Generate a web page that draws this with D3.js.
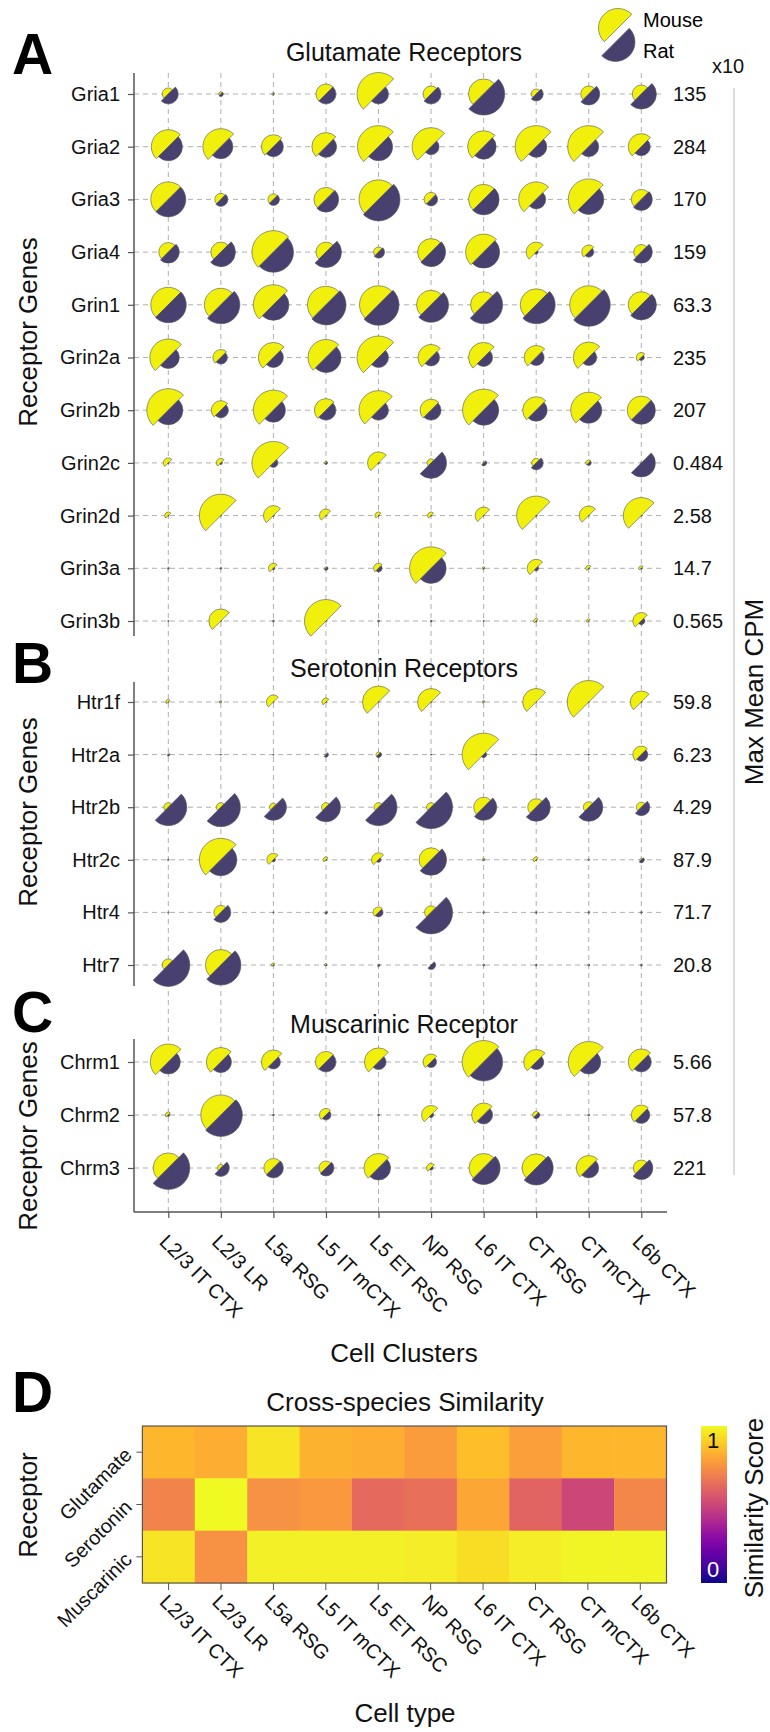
<!DOCTYPE html>
<html>
<head>
<meta charset="utf-8">
<script src="https://cdn.jsdelivr.net/npm/d3@7"></script>
<style>
  body { margin: 0; background: #fff; }
  svg { display: block; font-family: "Liberation Sans", Arial, sans-serif; }
  .grid line { stroke: #b0b0b0; stroke-width: 1; stroke-dasharray: 5,4; }
  .spine { stroke: #555; stroke-width: 1.5; }
  .glyph { stroke: #555; stroke-width: 0.6; }
</style>
</head>
<body>
<div id="chart"></div>
<script>
// ---- data ----
const cellTypes = ["L2/3 IT CTX", "L2/3 LR", "L5a RSG", "L5 IT mCTX", "L5 ET RSC",
  "NP RSG", "L6 IT CTX", "CT RSG", "CT mCTX", "L6b CTX"];

// relative mean expression (1 = gene max), mouse & rat
const glutamateGenes = ["Gria1", "Gria2", "Gria3", "Gria4", "Grin1", "Grin2a", "Grin2b",
  "Grin2c", "Grin2d", "Grin3a", "Grin3b"];
const glutamateMax = ["135", "284", "170", "159", "63.3", "235", "207", "0.484", "2.58", "14.7", "0.565"];
const glutamateMouse = [
  [0.078, 0.009, 0.005, 0.216, 1, 0.138, 0.487, 0.054, 0.138, 0.175],
  [0.625, 0.701, 0.312, 0.424, 0.954, 0.781, 0.554, 0.954, 0.954, 0.366],
  [0.663, 0.078, 0.065, 0.312, 0.823, 0.106, 0.487, 0.663, 0.909, 0.216],
  [0.195, 0.216, 1, 0.216, 0.054, 0.394, 0.701, 0.216, 0.106, 0.122],
  [0.663, 0.589, 0.865, 0.74, 0.781, 0.455, 0.366, 0.554, 0.781, 0.366],
  [0.74, 0.138, 0.487, 0.701, 1, 0.366, 0.487, 0.312, 0.52, 0.054],
  [1, 0.195, 0.865, 0.286, 0.823, 0.262, 0.954, 0.394, 0.701, 0.424],
  [0.054, 0.044, 1, 0.005, 0.262, 0.035, 0.002, 0.044, 0.019, 0.002],
  [0.027, 1, 0.216, 0.091, 0.027, 0.027, 0.156, 0.823, 0.195, 0.701],
  [0.002, 0.002, 0.054, 0.005, 0.054, 1, 0.005, 0.175, 0.019, 0.014],
  [0.001, 0.312, 0.002, 1, 0.002, 0.002, 0.001, 0.014, 0.009, 0.156]
];
const glutamateRat = [
  [0.216, 0.014, 0.002, 0.216, 0.216, 0.216, 0.954, 0.106, 0.262, 0.487],
  [0.424, 0.312, 0.216, 0.239, 0.424, 0.138, 0.338, 0.239, 0.216, 0.175],
  [0.663, 0.106, 0.078, 0.349, 1, 0.091, 0.52, 0.195, 0.487, 0.262],
  [0.262, 0.455, 0.865, 0.52, 0.078, 0.455, 0.554, 0.009, 0.054, 0.262],
  [0.701, 0.781, 0.52, 0.865, 0.909, 0.663, 0.781, 0.781, 1, 0.487],
  [0.262, 0.091, 0.216, 0.487, 0.216, 0.156, 0.175, 0.138, 0.138, 0.019],
  [0.455, 0.122, 0.312, 0.216, 0.216, 0.216, 0.487, 0.262, 0.366, 0.424],
  [0.002, 0.005, 0.044, 0.005, 0.002, 0.52, 0.019, 0.106, 0.014, 0.424],
  [0.001, 0.001, 0.002, 0.001, 0.001, 0.001, 0.001, 0.002, 0.001, 0.001],
  [0.002, 0.002, 0.005, 0.009, 0.027, 0.487, 0.002, 0.014, 0.002, 0.002],
  [0.001, 0.001, 0.002, 0.001, 0.002, 0.002, 0.001, 0.002, 0.001, 0.027]
];

const serotoninGenes = ["Htr1f", "Htr2a", "Htr2b", "Htr2c", "Htr4", "Htr7"];
const serotoninMax = ["59.8", "6.23", "4.29", "87.9", "71.7", "20.8"];
const serotoninMouse = [
  [0.014, 0.005, 0.106, 0.035, 0.554, 0.394, 0.005, 0.394, 1, 0.262],
  [0.001, 0.001, 0.001, 0.002, 0.014, 0.001, 1, 0.001, 0.001, 0.156],
  [0.044, 0.044, 0.035, 0.044, 0.044, 0.044, 0.216, 0.156, 0.065, 0.054],
  [0.002, 1, 0.091, 0.019, 0.106, 0.312, 0.005, 0.019, 0.002, 0.005],
  [0.001, 0.106, 0.001, 0.001, 0.065, 0.091, 0.002, 0.002, 0.002, 0.002],
  [0.078, 0.52, 0.009, 0.005, 0.001, 0.001, 0.002, 0.002, 0.002, 0.002]
];
const serotoninRat = [
  [0.001, 0.001, 0.001, 0.001, 0.001, 0.001, 0.001, 0.001, 0.001, 0.001],
  [0.005, 0.001, 0.001, 0.014, 0.019, 0.001, 0.019, 0.001, 0.001, 0.091],
  [0.74, 0.823, 0.366, 0.455, 0.74, 1, 0.366, 0.424, 0.424, 0.156],
  [0.001, 0.554, 0.009, 0.002, 0.014, 0.52, 0.002, 0.002, 0.001, 0.019],
  [0.001, 0.216, 0.001, 0.005, 0.044, 1, 0.002, 0.002, 0.002, 0.002],
  [1, 0.865, 0.002, 0.002, 0.005, 0.044, 0.002, 0.002, 0.002, 0.002]
];

const muscarinicGenes = ["Chrm1", "Chrm2", "Chrm3"];
const muscarinicMax = ["5.66", "57.8", "221"];
const muscarinicMouse = [
  [0.701, 0.455, 0.312, 0.239, 0.424, 0.138, 1, 0.338, 0.909, 0.366],
  [0.019, 0.865, 0.002, 0.091, 0.002, 0.195, 0.312, 0.027, 0.002, 0.216],
  [0.487, 0.027, 0.195, 0.106, 0.455, 0.044, 0.455, 0.424, 0.338, 0.138]
];
const muscarinicRat = [
  [0.312, 0.239, 0.106, 0.216, 0.122, 0.065, 0.781, 0.122, 0.312, 0.216],
  [0.005, 1, 0.002, 0.054, 0.002, 0.014, 0.175, 0.027, 0.002, 0.156],
  [1, 0.156, 0.216, 0.138, 0.312, 0.009, 0.589, 0.625, 0.216, 0.286]
];

// cross-species similarity score per receptor family
const receptorFamilies = ["Glutamate", "Serotonin", "Muscarinic"];
const similarityScores = [
  [0.84, 0.82, 0.95, 0.83, 0.82, 0.77, 0.86, 0.78, 0.84, 0.84],
  [0.70, 1.00, 0.74, 0.76, 0.62, 0.64, 0.80, 0.60, 0.50, 0.71],
  [0.95, 0.74, 0.98, 0.98, 0.98, 0.97, 0.93, 0.97, 0.99, 0.99]
];

// ---- layout ----
const width = 770, height = 1732;
const mouseColor = "#f0f00c", ratColor = "#48406e";
const axisX = 134, gridRight = 663, plotBottom = 1212;

const svg = d3.select("#chart").append("svg")
  .attr("width", width)
  .attr("height", height)
  .attr("viewBox", `0 0 ${width} ${height}`);

const x = d3.scalePoint().domain(cellTypes).range([168.3, 641.3]);
const rScale = d3.scaleSqrt().domain([0, 1]).range([0, 21.5]);

const mouseArc = d3.arc().innerRadius(0).startAngle(-3 * Math.PI / 4).endAngle(Math.PI / 4);
const ratArc = d3.arc().innerRadius(0).startAngle(Math.PI / 4).endAngle(5 * Math.PI / 4);

const panels = [
  { letter: "A", title: "Glutamate Receptors", genes: glutamateGenes, max: glutamateMax,
    mouse: glutamateMouse, rat: glutamateRat, rows: [94, 621], spine: [73, 636],
    titleY: 61, letterY: 74, labelY: 332 },
  { letter: "B", title: "Serotonin Receptors", genes: serotoninGenes, max: serotoninMax,
    mouse: serotoninMouse, rat: serotoninRat, rows: [702, 965], spine: [682, 986],
    titleY: 677, letterY: 683, labelY: 812 },
  { letter: "C", title: "Muscarinic Receptor", genes: muscarinicGenes, max: muscarinicMax,
    mouse: muscarinicMouse, rat: muscarinicRat, rows: [1062, 1168], spine: [1039, plotBottom],
    titleY: 1033, letterY: 1032, labelY: 1136 }
];

// vertical dashed grid through all three panels
svg.append("g").attr("class", "grid")
  .selectAll("line")
  .data(cellTypes)
  .enter()
  .append("line")
  .attr("x1", d => x(d)).attr("x2", d => x(d))
  .attr("y1", 73).attr("y2", plotBottom);

panels.forEach(function (p) {
  const y = d3.scalePoint().domain(p.genes).range(p.rows);
  const g = svg.append("g");

  // horizontal grid
  g.append("g").attr("class", "grid")
    .selectAll("line")
    .data(p.genes)
    .enter()
    .append("line")
    .attr("x1", axisX).attr("x2", gridRight)
    .attr("y1", d => y(d)).attr("y2", d => y(d));

  const cells = [];
  p.genes.forEach(function (gene, i) {
    cellTypes.forEach(function (ct, j) {
      cells.push({ gene: gene, cell: ct, mouse: p.mouse[i][j], rat: p.rat[i][j] });
    });
  });

  const glyph = g.append("g")
    .selectAll("g")
    .data(cells)
    .enter()
    .append("g")
    .attr("transform", d => `translate(${x(d.cell)},${y(d.gene)})`);

  glyph.append("path")
    .attr("class", "glyph")
    .attr("fill", mouseColor)
    .attr("d", d => mouseArc({ outerRadius: rScale(d.mouse) }));

  glyph.append("path")
    .attr("class", "glyph")
    .attr("fill", ratColor)
    .attr("d", d => ratArc({ outerRadius: rScale(d.rat) }));

  // y axis with gene names
  const yAxis = g.append("g")
    .attr("transform", `translate(${axisX},0)`)
    .call(d3.axisLeft(y).tickSize(6).tickPadding(8).tickSizeOuter(0));
  yAxis.select(".domain").remove();
  yAxis.selectAll("line").attr("stroke", "#555").attr("stroke-width", 1.2);
  yAxis.selectAll("text")
    .attr("font-size", 20)
    .attr("font-family", "Liberation Sans, Arial, sans-serif")
    .attr("fill", "#111");

  g.append("line").attr("class", "spine")
    .attr("x1", axisX).attr("x2", axisX)
    .attr("y1", p.spine[0]).attr("y2", p.spine[1]);

  // max mean CPM per gene
  g.append("g")
    .selectAll("text")
    .data(p.genes)
    .enter()
    .append("text")
    .attr("x", 673)
    .attr("y", d => y(d))
    .attr("dy", "0.35em")
    .attr("font-size", 20)
    .attr("fill", "#111")
    .text((d, i) => p.max[i]);

  g.append("text")
    .attr("x", 404)
    .attr("y", p.titleY)
    .attr("text-anchor", "middle")
    .attr("font-size", 25)
    .attr("fill", "#111")
    .text(p.title);

  g.append("text")
    .attr("x", 12)
    .attr("y", p.letterY)
    .attr("font-size", 57)
    .attr("font-weight", "bold")
    .text(p.letter);

  g.append("text")
    .attr("transform", `translate(37,${p.labelY}) rotate(-90)`)
    .attr("text-anchor", "middle")
    .attr("font-size", 26)
    .attr("fill", "#111")
    .text("Receptor Genes");
});

// x axis of panel C
const xAxis = svg.append("g")
  .attr("transform", `translate(0,${plotBottom})`)
  .call(d3.axisBottom(x).tickSize(6).tickSizeOuter(0).tickFormat(""));
xAxis.select(".domain").remove();
xAxis.selectAll("line").attr("stroke", "#555").attr("stroke-width", 1.2);
svg.append("line").attr("class", "spine")
  .attr("x1", axisX).attr("x2", 667)
  .attr("y1", plotBottom).attr("y2", plotBottom);

svg.append("g")
  .selectAll("text")
  .data(cellTypes)
  .enter()
  .append("text")
  .attr("transform", d => `translate(${x(d) - 10},${plotBottom + 31}) rotate(45)`)
  .attr("font-size", 20)
  .attr("fill", "#111")
  .text(d => d);

svg.append("text")
  .attr("x", 404).attr("y", 1362)
  .attr("text-anchor", "middle")
  .attr("font-size", 26)
  .attr("fill", "#111")
  .text("Cell Clusters");

// right side: Max Mean CPM
svg.append("line")
  .attr("x1", 734).attr("x2", 734)
  .attr("y1", 88).attr("y2", 1175)
  .attr("stroke", "#bbb").attr("stroke-width", 1);
svg.append("text")
  .attr("transform", "translate(763,692) rotate(-90)")
  .attr("text-anchor", "middle")
  .attr("font-size", 26)
  .attr("fill", "#111")
  .text("Max Mean CPM");
svg.append("text")
  .attr("x", 712).attr("y", 73)
  .attr("font-size", 20)
  .attr("fill", "#111")
  .text("x10");

// legend
const legend = svg.append("g");
legend.append("path")
  .attr("class", "glyph")
  .attr("fill", mouseColor)
  .attr("transform", "translate(618,28)")
  .attr("d", mouseArc({ outerRadius: 19.5 }));
legend.append("path")
  .attr("class", "glyph")
  .attr("fill", ratColor)
  .attr("transform", "translate(615.5,42)")
  .attr("d", ratArc({ outerRadius: 19.5 }));
legend.append("text").attr("x", 643).attr("y", 27).attr("font-size", 20).text("Mouse");
legend.append("text").attr("x", 643).attr("y", 58).attr("font-size", 20).text("Rat");

// ---- D: similarity heatmap ----
const hx = d3.scaleBand().domain(cellTypes).range([142.4, 666.5]);
const hy = d3.scaleBand().domain(receptorFamilies).range([1426, 1583]);
const color = d3.scaleSequential(d3.interpolatePlasma).domain([0, 1]);

const heat = svg.append("g");
const heatCells = [];
receptorFamilies.forEach(function (r, i) {
  cellTypes.forEach(function (c, j) {
    heatCells.push({ row: r, col: c, value: similarityScores[i][j] });
  });
});

heat.selectAll("rect.cell")
  .data(heatCells)
  .enter()
  .append("rect")
  .attr("class", "cell")
  .attr("x", d => hx(d.col))
  .attr("y", d => hy(d.row))
  .attr("width", hx.bandwidth() + 0.5)
  .attr("height", hy.bandwidth() + 0.5)
  .attr("fill", d => color(d.value));

heat.append("rect")
  .attr("x", 142.4).attr("y", 1426)
  .attr("width", 666.5 - 142.4).attr("height", 1583 - 1426)
  .attr("fill", "none").attr("stroke", "#555").attr("stroke-width", 1.2);

const hxAxis = heat.append("g")
  .attr("transform", "translate(0,1583)")
  .call(d3.axisBottom(hx).tickSize(7).tickSizeOuter(0).tickFormat(""));
hxAxis.select(".domain").remove();
hxAxis.selectAll("line").attr("stroke", "#555");

const hyAxis = heat.append("g")
  .attr("transform", "translate(142.4,0)")
  .call(d3.axisLeft(hy).tickSize(6).tickSizeOuter(0).tickFormat(""));
hyAxis.select(".domain").remove();
hyAxis.selectAll("line").attr("stroke", "#555");

heat.append("g")
  .selectAll("text")
  .data(cellTypes)
  .enter()
  .append("text")
  .attr("transform", d => `translate(${hx(d) + hx.bandwidth() / 2 - 10},1603) rotate(45)`)
  .attr("font-size", 20)
  .attr("fill", "#111")
  .text(d => d);

heat.append("g")
  .selectAll("text")
  .data(receptorFamilies)
  .enter()
  .append("text")
  .attr("transform", d => `translate(133,${hy(d) + hy.bandwidth() / 2 + 4}) rotate(-45)`)
  .attr("text-anchor", "end")
  .attr("font-size", 20)
  .attr("fill", "#111")
  .text(d => d);

heat.append("text")
  .attr("x", 405).attr("y", 1411)
  .attr("text-anchor", "middle")
  .attr("font-size", 26)
  .attr("fill", "#111")
  .text("Cross-species Similarity");

heat.append("text")
  .attr("x", 12).attr("y", 1412)
  .attr("font-size", 57)
  .attr("font-weight", "bold")
  .text("D");

heat.append("text")
  .attr("transform", "translate(37,1505) rotate(-90)")
  .attr("text-anchor", "middle")
  .attr("font-size", 26)
  .attr("fill", "#111")
  .text("Receptor");

heat.append("text")
  .attr("x", 405).attr("y", 1722)
  .attr("text-anchor", "middle")
  .attr("font-size", 26)
  .attr("fill", "#111")
  .text("Cell type");

// colour bar
const cb = d3.scaleLinear().domain([0, 1]).range([1583, 1426]);
const grad = svg.append("defs").append("linearGradient")
  .attr("id", "plasma")
  .attr("x1", 0).attr("y1", 1).attr("x2", 0).attr("y2", 0);
grad.selectAll("stop")
  .data(d3.range(0, 1.01, 0.1))
  .enter()
  .append("stop")
  .attr("offset", d => d)
  .attr("stop-color", d => color(d));

heat.append("rect")
  .attr("x", 701).attr("y", cb(1))
  .attr("width", 26).attr("height", cb(0) - cb(1))
  .attr("fill", "url(#plasma)");
heat.append("text")
  .attr("x", 713).attr("y", cb(1) + 22)
  .attr("text-anchor", "middle")
  .attr("font-size", 22)
  .attr("fill", "#111")
  .text("1");
heat.append("text")
  .attr("x", 713).attr("y", cb(0) - 6)
  .attr("text-anchor", "middle")
  .attr("font-size", 22)
  .attr("fill", "#fff")
  .text("0");
heat.append("text")
  .attr("transform", "translate(763,1508) rotate(-90)")
  .attr("text-anchor", "middle")
  .attr("font-size", 26)
  .attr("fill", "#111")
  .text("Similarity Score");
</script>
</body>
</html>
